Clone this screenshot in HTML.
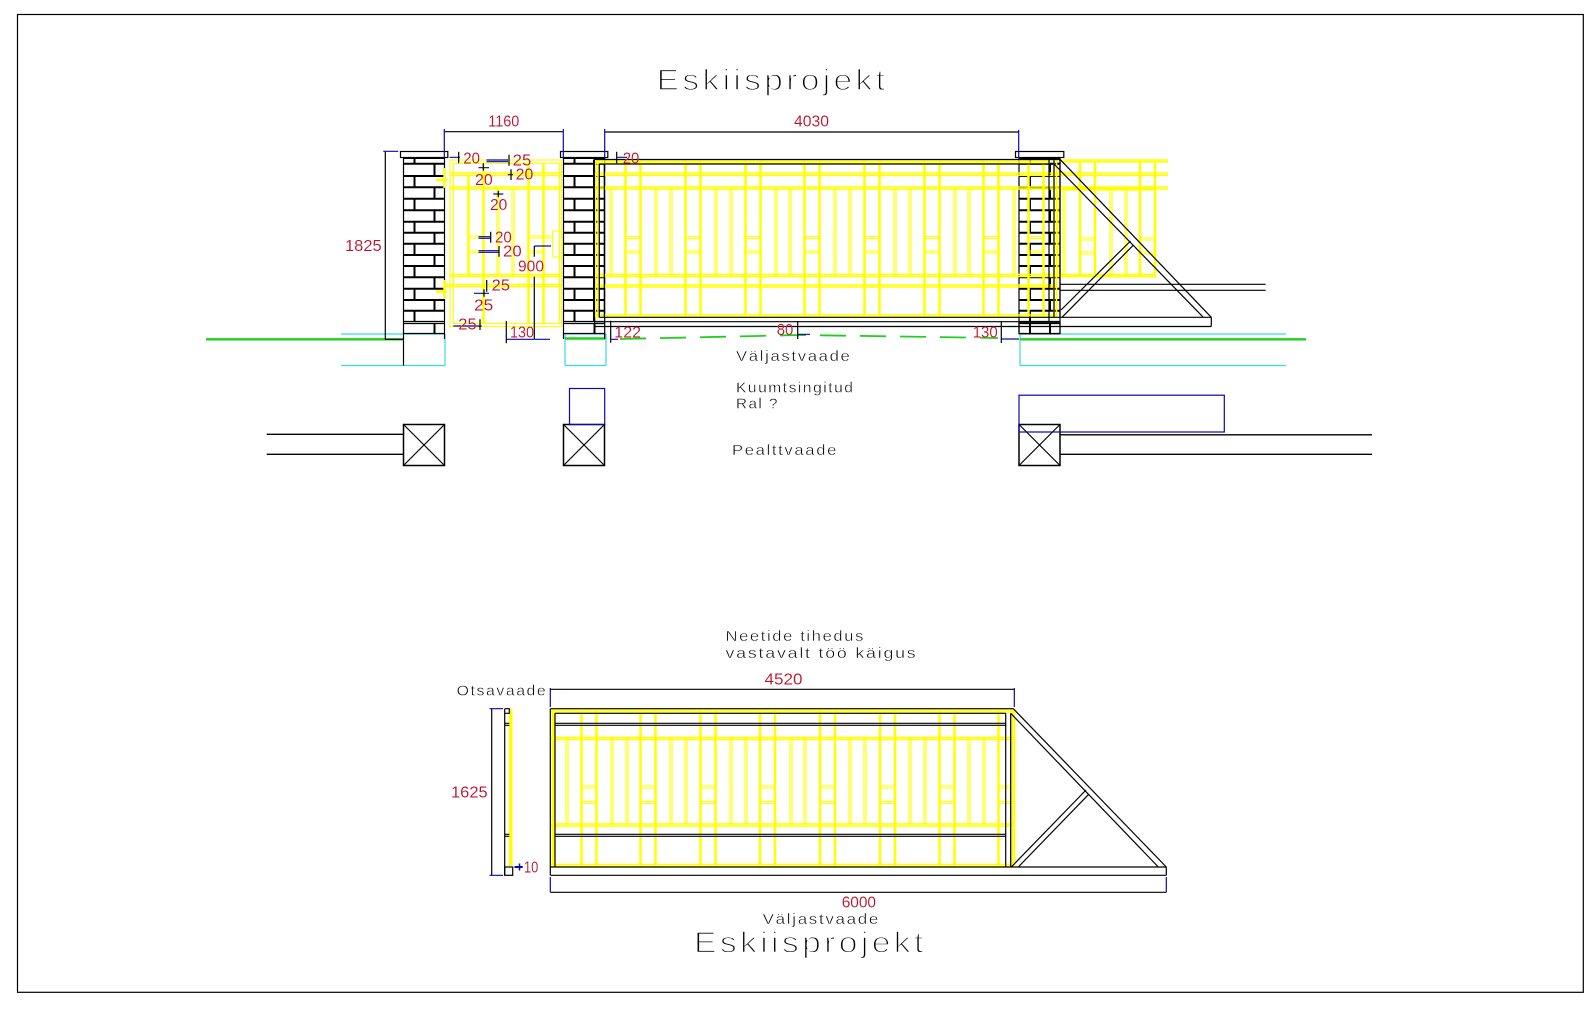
<!DOCTYPE html>
<html><head><meta charset="utf-8"><style>
html,body{margin:0;padding:0;background:#fff;width:1594px;height:1012px;overflow:hidden}
svg{display:block}
text{font-family:"Liberation Sans",sans-serif}
.r{fill:#bb1028;font-size:15.5px;stroke:#fff;stroke-width:.1px}
.k{fill:#000;font-size:15px;stroke:#fff;stroke-width:.4px;letter-spacing:1.5px}
.t{fill:#000;font-size:30px;stroke:#fff;stroke-width:1.4px;letter-spacing:3px}
.b{stroke:#000;fill:none;stroke-width:1.2}
.bt{stroke:#000;fill:none;stroke-width:2}
.n{stroke:#0a0aa8;fill:none;stroke-width:1.2}
.c{stroke:#33dddd;fill:none;stroke-width:1.2}
.g{stroke:#1fd01f;fill:none;stroke-width:2.4}
.y{stroke:#ffff00;fill:none;stroke-width:1.1}
.ym{stroke:#ffff00;fill:none;stroke-width:1.6}
.yt{stroke:#ffff00;fill:none;stroke-width:2.5}
</style></head><body>
<svg width="1594" height="1012" viewBox="0 0 1594 1012" xmlns="http://www.w3.org/2000/svg">
<defs>
<g id="pil">
<path class="bt" d="M0 158H41M0 163.7H41M0 176H41M0 187.3H41M0 198.7H41M0 210.3H41M0 221.7H41M0 232.7H41M0 243.7H41M0 255H41M0 266H41M0 277.3H41M0 288.7H41M0 300H41M0 310.7H41"/>
<path class="b" d="M0 321.5H41M0 323.5H41M0 333.5H41"/>
<path class="bt" d="M11 158V163.7M31 163.7V176M11 176V187.3M31 187.3V198.7M11 198.7V210.3M31 210.3V221.7M11 221.7V232.7M31 232.7V243.7M11 243.7V255M31 255V266M11 266V277.3M31 277.3V288.7M11 288.7V300M31 300V310.7M11 310.7V321.5M31 323.5V333.5"/>
</g>
<g id="sq"><rect class="bt" x="0" y="0" width="41" height="41" style="stroke-width:1.5"/><path class="b" d="M0 0L41 41M41 0L0 41"/></g>
</defs>
<rect width="1594" height="1012" fill="#fff"/>
<rect x="17.5" y="14.5" width="1565.8" height="977.8" fill="none" stroke="#000" stroke-width="1.2"/>

<!-- cyan foundations -->
<path class="c" d="M341 334H445M341 365.5H445M445 334V365.5M565 334H606M565 365.5H606M565 334V365.5M606 334V365.5M1020 334H1286M1020 365.5H1286M1020 334V365.5"/>
<path class="b" d="M403.5 339V365.5"/>

<!-- ground -->
<path class="g" d="M206 339.3H403M565 338.5H605M1020 339.3H1306"/>
<path class="g" style="stroke-width:1.8;stroke-dasharray:26 14" d="M620 339L690 337.5L800 335L900 336.5L998 338"/>

<!-- pillars -->
<use href="#pil" x="403.5"/><use href="#pil" x="563.5"/><use href="#pil" x="1019"/>
<path class="b" d="M403.5 157V339M444.5 157V339M563.5 157V339M604.7 157V339M1019 157V334M1060 157V334"/>
<rect class="b" x="400.5" y="151.5" width="47.3" height="6"/>
<rect class="b" x="560.5" y="151.5" width="47.3" height="6"/>
<rect class="b" x="1015.5" y="151.5" width="48.3" height="6"/>

<!-- small gate yellow -->
<g>
<rect class="y" x="450" y="160" width="111.5" height="166.5"/>
<rect class="y" x="453.5" y="163.5" width="106" height="160"/>
<path class="ym" d="M450 173H562M450 175.5H562M450 187H562M450 189H562M450 274.5H562M450 276.5H562M446 284.5H562M446 286.5H562"/>
<path class="yt" d="M468.5 174V276M483.5 164V324M528.5 164V324M543.5 164V324"/>
<path class="y" d="M497 188V276M499 188V276M512 188V276M514 188V276"/>
<path class="y" d="M468 236H483M468 238H483M468 251H483M468 253H483M528 236H543M528 238H543M528 251H543M528 253H543M543 236H553M543 238H553"/>
<rect class="y" x="552.7" y="231" width="9.6" height="26"/>
<path class="yt" d="M444.5 168V188M444.5 280V299M436 180H447M436 291.5H447"/>
</g>

<!-- main gate yellow -->
<path class="ym" d="M596 161H1050M596 163H1050M596 173H1168M596 175.3H1168M596 187H1168M596 189H1168M1063 160H1168M1063 161.8H1168M596 274.5H1156M596 276.5H1156M596 285H1056M596 287H1056M596 315H1056M596 317H1056M595.5 161V317M598 161V317M1054 160V317M1056.5 160V317"/>
<path class="y" d="M610 188V276M612 188V276M655 188V276M657 188V276M670 188V276M672 188V276M715 188V276M717 188V276M730 188V276M732 188V276M775 188V276M777 188V276M789 188V276M791 188V276M834 188V276M836 188V276M849 188V276M851 188V276M894 188V276M896 188V276M909 188V276M911 188V276M954 188V276M956 188V276M968 188V276M970 188V276M1013 188V276M1015 188V276M1058 188V276M1060 188V276"/>
<path class="yt" d="M625.5 161V316M640.5 161V316M685.5 161V316M700.5 161V316M745.5 161V316M760.5 161V316M804.5 161V316M819.5 161V316M864.5 161V316M879.5 161V316M924.5 161V316M939.5 161V316M983.5 161V316M998.5 161V316M1028.5 161V316M1043.5 161V316"/>
<path class="y" d="M625 236.5H641M625 238.5H641M625 251H641M625 253H641M685 236.5H701M685 238.5H701M685 251H701M685 253H701M745 236.5H761M745 238.5H761M745 251H761M745 253H761M804 236.5H820M804 238.5H820M804 251H820M804 253H820M864 236.5H880M864 238.5H880M864 251H880M864 253H880M924 236.5H940M924 238.5H940M924 251H940M924 253H940M983 236.5H999M983 238.5H999M983 251H999M983 253H999M1028 236.5H1044M1028 238.5H1044M1028 251H1044M1028 253H1044"/>
<rect class="y" x="1063" y="188" width="92.5" height="88.5"/>
<rect class="y" x="1065" y="190" width="90.5" height="85"/>
<path class="yt" d="M1080 161V276M1095 161V276M1140 161V276M1155 161V276"/>
<path class="y" d="M1110 188V276M1112 188V276M1125 188V276M1127 188V276"/>
<path class="y" d="M1080 238H1095M1080 240H1095M1080 252H1095M1080 254H1095M1140 238H1155M1140 240H1155M1140 252H1155M1140 254H1155"/>

<!-- main gate black -->
<path class="b" d="M594 159.5H1060M599.3 164H1054M599.3 164V317.3M604.3 164V317.3M594.7 317.3V326.5M594.7 321.7H1019M594.7 326.5H1211.3M599.3 317.3H1211.3M1211.3 317.3V326.5M1049 160V322M1054 160V317.3M1060 159.5V317.3"/>
<path class="bt" d="M594 159.5V321.7"/>
<path class="b" d="M1060 159.3L1211.3 317.3M1054 164L1203.3 317.3M1130.5 241L1061 310M1133.5 245L1062 317.3M1060 284.3H1265.7M1060 290.3H1265.7"/>
<rect class="b" x="1019" y="322.7" width="41" height="11"/>
<path class="bt" d="M1030 323V333.5"/>

<!-- dimensions upper -->
<path class="b" d="M444.3 131.7H563.3M604.7 132H1018.7M385.3 151.5V339.3M385 339.3H403.5"/>
<path class="n" d="M444.3 129V158M563.3 129V158M604.7 129V158M1018.7 130V158M383.3 151.3H398.3"/>
<text class="r" x="488.3" y="126.5" textLength="31" lengthAdjust="spacingAndGlyphs">1160</text>
<text class="r" x="794" y="126.5" textLength="35" lengthAdjust="spacingAndGlyphs">4030</text>
<text class="r" x="345" y="251" textLength="36.7" lengthAdjust="spacingAndGlyphs">1825</text>

<!-- small gate dims -->
<path class="n" d="M449.5 157.3H460M486.5 160H508M486.5 161.7H508M478.5 167.7H489M507.7 174.7H513M493.3 194H503.3M478.5 236.7H490.7M478.5 238.3H490.7M478.5 250.7H499M478.5 252.3H499M474 293.3H489M453.3 326H481.7M534.3 246H551M534.3 339.3H550M506 339.3H534M617.3 157.3H627"/>
<path class="b" d="M458.7 151.7V163.3M509 154.7V165.7M483.3 163.3V170.7M511 169.3V180M498.3 190.7V197.3M490.7 231.7V242.7M499 246V256.7M534.3 246V256.7M534.3 276.7V339.3M486.7 280V291.7M484 289.3V296.7M480 319.3V330M506.3 321V343.3M616.7 151.7V163.3M610.7 320.7V342.7M797.7 321V339M1001.3 321V343"/>
<path class="n" d="M797.7 334.3H810M610.7 339.3H618M1001.3 339H1019"/>
<text class="r" x="463.3" y="163.3" textLength="16.7" lengthAdjust="spacingAndGlyphs">20</text>
<text class="r" x="512.7" y="165.7" textLength="18.6" lengthAdjust="spacingAndGlyphs">25</text>
<text class="r" x="475" y="185" textLength="17.7" lengthAdjust="spacingAndGlyphs">20</text>
<text class="r" x="515.7" y="179.3" textLength="17.6" lengthAdjust="spacingAndGlyphs">20</text>
<text class="r" x="490" y="210" textLength="17.3" lengthAdjust="spacingAndGlyphs">20</text>
<text class="r" x="495" y="242.7" textLength="16.7" lengthAdjust="spacingAndGlyphs">20</text>
<text class="r" x="503" y="256.7" textLength="18.7" lengthAdjust="spacingAndGlyphs">20</text>
<text class="r" x="518" y="271.7" textLength="26" lengthAdjust="spacingAndGlyphs">900</text>
<text class="r" x="491.7" y="290.7" textLength="18.3" lengthAdjust="spacingAndGlyphs">25</text>
<text class="r" x="474" y="310.7" textLength="19.3" lengthAdjust="spacingAndGlyphs">25</text>
<text class="r" x="458.3" y="329.3" textLength="18.4" lengthAdjust="spacingAndGlyphs">25</text>
<text class="r" x="510" y="337.3" textLength="24" lengthAdjust="spacingAndGlyphs">130</text>
<text class="r" x="622.7" y="163.3" textLength="16.6" lengthAdjust="spacingAndGlyphs">20</text>
<text class="r" x="614.3" y="337.7" textLength="26.7" lengthAdjust="spacingAndGlyphs">122</text>
<text class="r" x="776.7" y="335" textLength="16.6" lengthAdjust="spacingAndGlyphs">80</text>
<text class="r" x="972.7" y="337.7" textLength="25" lengthAdjust="spacingAndGlyphs">130</text>

<!-- plan -->
<path class="bt" d="M266.7 434.3H403.5M266.7 454.3H403.5M1060 434.8H1372M1060 454.3H1372" style="stroke-width:1.4"/>
<use href="#sq" x="403.5" y="424.5"/><use href="#sq" x="563.5" y="424.5"/><use href="#sq" x="1019" y="424.5"/>
<rect class="n" x="569.5" y="388.5" width="35.2" height="36"/>
<rect class="n" x="1019" y="395.2" width="205.3" height="36.8"/>

<!-- lower gate yellow -->
<path class="ym" d="M551 710H1014M551 712H1014M551 737.5H1015M551 739.5H1015M551 824H1015M551 826H1015M551 864.5H1014M551 866.5H1014M552.5 709V867M554 709V867M1012.5 709V867M1014.5 709V867"/>
<path class="y" d="M566 738V824M568 738V824M611 738V824M613 738V824M626 738V824M628 738V824M670 738V824M672 738V824M685 738V824M687 738V824M730 738V824M732 738V824M745 738V824M747 738V824M790 738V824M792 738V824M804 738V824M806 738V824M849 738V824M851 738V824M864 738V824M866 738V824M909 738V824M911 738V824M924 738V824M926 738V824M968 738V824M970 738V824M983 738V824M985 738V824"/>
<path class="yt" d="M581.5 711V866M596.5 711V866M640.5 711V866M655.5 711V866M700.5 711V866M715.5 711V866M760 711V866M775 711V866M820 711V866M835 711V866M880 711V866M895 711V866M939.5 711V866M954.5 711V866M998.5 711V866"/>
<path class="y" d="M581 786H597M581 788H597M581 801.5H597M581 803.5H597M640 786H656M640 788H656M640 801.5H656M640 803.5H656M700 786H716M700 788H716M700 801.5H716M700 803.5H716M760 786H775M760 788H775M760 801.5H775M760 803.5H775M820 786H835M820 788H835M820 801.5H835M820 803.5H835M880 786H895M880 788H895M880 801.5H895M880 803.5H895M939 786H954M939 788H954M939 801.5H954M939 803.5H954M998 786H1012M998 788H1012M998 801.5H1012M998 803.5H1012"/>
<rect x="509" y="709" width="3.5" height="157" fill="#ff0"/>

<!-- lower gate black -->
<path class="b" d="M550.3 708.7H1013.3M555 713.3H1005.7M555 723.3H1005.7M555 725.3H1005.7M555 834.3H1005.7M555 836.3H1005.7M550.3 867H1166.3M550.3 875.3H1166.3M550.3 708.7V875.3M555 713.3V867M1005.7 713.3V867M1010.7 713.3V867M1166.3 867V875.3M1013.3 708.7L1166.3 867M1010.7 713.3L1158.3 867M1086 790L1011.3 867M1088.7 794.3L1018.3 867M550.3 689.3H1014.3M550.3 892.3H1166.3"/>
<path class="n" d="M550.3 688V707M1014.3 688V707M550.3 877V892.3M1166.3 877V892.3"/>

<!-- end view -->
<path class="b" d="M491.7 708.7V875.3M504.7 708.7V875.3M504.7 708.7H509.3V713.3H504.7M504.7 723.3H509.3M504.7 725.3H509.3M504.7 834.3H509.3M504.7 836.3H509.3"/>
<rect class="b" x="504.7" y="867" width="8" height="8.3"/>
<path class="n" d="M489.5 708.7H503M489.5 875.3H503"/>
<path class="n" d="M514.5 867H522.7" style="stroke-width:2"/><path class="n" d="M519.5 863.5V870.5" style="stroke-width:1.5"/>

<!-- text -->
<text class="t" x="656.7" y="90" textLength="231.6" lengthAdjust="spacingAndGlyphs">Eskiisprojekt</text>
<text class="k" x="736" y="361" textLength="115.5" lengthAdjust="spacingAndGlyphs">Väljastvaade</text>
<text class="k" x="736" y="392.5" textLength="118.5" lengthAdjust="spacingAndGlyphs">Kuumtsingitud</text>
<text class="k" x="736" y="408.5" textLength="43" lengthAdjust="spacingAndGlyphs">Ral ?</text>
<text class="k" x="732" y="455" textLength="106" lengthAdjust="spacingAndGlyphs">Pealttvaade</text>
<text class="k" x="725.5" y="641" textLength="139.5" lengthAdjust="spacingAndGlyphs">Neetide tihedus</text>
<text class="k" x="725.5" y="658" textLength="192" lengthAdjust="spacingAndGlyphs">vastavalt töö käigus</text>
<text class="k" x="456.7" y="695.7" textLength="90.6" lengthAdjust="spacingAndGlyphs">Otsavaade</text>
<text class="r" x="764.5" y="684.5" textLength="38" lengthAdjust="spacingAndGlyphs">4520</text>
<text class="r" x="451" y="797.7" textLength="36.7" lengthAdjust="spacingAndGlyphs">1625</text>
<text class="r" x="524" y="872.7" textLength="14.3" lengthAdjust="spacingAndGlyphs">10</text>
<text class="r" x="841.7" y="907.7" textLength="34.3" lengthAdjust="spacingAndGlyphs">6000</text>
<text class="k" x="762.7" y="924" textLength="117.3" lengthAdjust="spacingAndGlyphs">Väljastvaade</text>
<text class="t" x="694" y="952.7" textLength="232.7" lengthAdjust="spacingAndGlyphs">Eskiisprojekt</text>
</svg>
</body></html>
